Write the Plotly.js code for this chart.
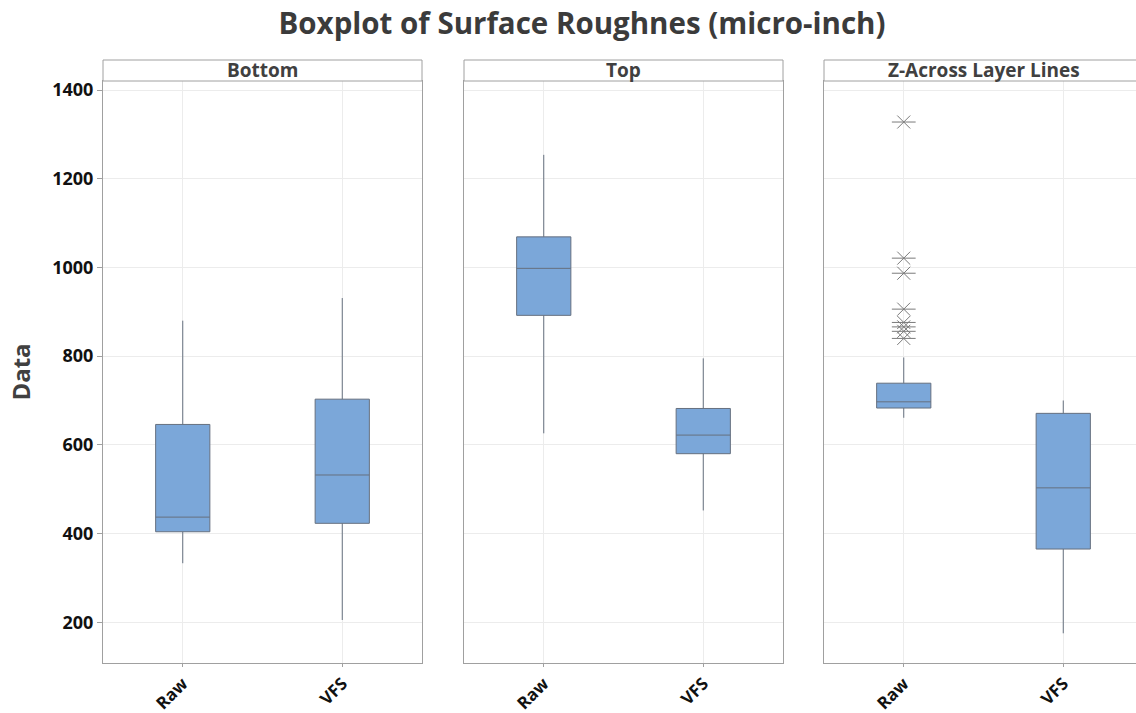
<!DOCTYPE html>
<html>
<head>
<meta charset="utf-8">
<script src="https://cdn.plot.ly/plotly-3.0.1.min.js"></script>
<style>
html,body{margin:0;padding:0;overflow:hidden;background:#fff;width:1136px;height:713px;}
#chart{width:1150px;height:713px;}
</style>
</head>
<body>
<div id="chart"></div>
<script>
// Data
const panels = ["Bottom", "Top", "Z-Across Layer Lines"];
const categories = ["Raw", "VFS"];
// per panel, per category: [lowerfence, q1, median, q3, upperfence]
const bottomStats = [[333, 404, 437, 646, 880], [205, 423, 532, 703, 931]];
const topStats = [[626, 892, 998, 1069, 1254], [452, 580, 622, 682, 795]];
const zStats = [[661, 683, 697, 739, 797], [175, 365, 503, 671, 700]];
const zRawOutliers = [1328, 1021, 987, 906, 876, 866, 856, 840];
const yTicks = [200, 400, 600, 800, 1000, 1200, 1400];

const allStats = [bottomStats, topStats, zStats];
const fill = "#7ba7d9";
const lineCol = "#66707f";
const font = "Open Sans, Noto Sans, sans-serif";

const traces = [];
allStats.forEach((ps, i) => {
  const xa = i === 0 ? "x" : "x" + (i + 1);
  const ya = i === 0 ? "y" : "y" + (i + 1);
  ps.forEach((s, j) => {
    traces.push({
      type: "box",
      x: [categories[j]],
      lowerfence: [s[0]], q1: [s[1]], median: [s[2]], q3: [s[3]], upperfence: [s[4]],
      xaxis: xa, yaxis: ya,
      fillcolor: fill,
      line: {color: lineCol, width: 1},
      whiskerwidth: 0,
      width: 0.34,
      boxpoints: false,
      showlegend: false,
      hoverinfo: "skip"
    });
  });
});
// outliers: X + horizontal line to mimic the asterisk symbol
["x-thin-open", "line-ew-open"].forEach(sym => {
  traces.push({
    type: "scatter", mode: "markers",
    x: zRawOutliers.map(() => categories[0]),
    y: zRawOutliers,
    xaxis: "x3", yaxis: "y3",
    marker: {symbol: sym, size: sym === "x-thin-open" ? 13 : 17, color: "#7a7a7a", line: {color: "#7a7a7a", width: 1}},
    showlegend: false, hoverinfo: "skip"
  });
});

const W = 1040;
const domains = [[0, 319 / W], [361 / W, 680 / W], [721 / W, 1]];
const yTop = 582 / 603;
const yRange = [108, 1420.5];

const layout = {
  width: 1150, height: 713,
  margin: {l: 103, r: 7, t: 60, b: 50},
  paper_bgcolor: "#fff", plot_bgcolor: "#fff",
  title: {text: "Boxplot of Surface Roughnes (micro-inch)", x: 582 / 1150, xref: "container", xanchor: "center",
          y: 1 - 24 / 713, yref: "container", yanchor: "middle",
          font: {family: font, size: 29.5, color: "#3b3b3b", weight: "bold"}},
  annotations: [],
  shapes: []
};

domains.forEach((d, i) => {
  const xk = i === 0 ? "xaxis" : "xaxis" + (i + 1);
  const yk = i === 0 ? "yaxis" : "yaxis" + (i + 1);
  const yid = i === 0 ? "y" : "y" + (i + 1);
  const xid = i === 0 ? "x" : "x" + (i + 1);
  layout[xk] = {
    domain: d, anchor: yid, type: "category",
    categoryorder: "array", categoryarray: categories,
    range: [-0.5, 1.5], fixedrange: true,
    showgrid: true, gridcolor: "#ececec", gridwidth: 1,
    showline: true, linecolor: "#a0a0a0", linewidth: 1, mirror: true,
    ticks: "outside", ticklen: 3, tickcolor: "#a0a0a0",
    tickangle: -45, automargin: false,
    tickfont: {family: font, size: 17, color: "#111", weight: "bold"},
    zeroline: false
  };
  layout[yk] = {
    domain: [0, yTop], anchor: xid, range: yRange, fixedrange: true,
    tickvals: yTicks, ticktext: yTicks.map(String),
    showgrid: true, gridcolor: "#ececec", gridwidth: 1,
    showline: true, linecolor: "#a0a0a0", linewidth: 1, mirror: true,
    ticks: i === 0 ? "outside" : "", ticklen: 5, tickcolor: "#a0a0a0",
    showticklabels: i === 0, automargin: false,
    tickfont: {family: font, size: 18, color: "#111", weight: "bold"},
    zeroline: false
  };
  if (i > 0) layout[yk].matches = "y";
  // strip header
  layout.shapes.push({
    type: "rect", xref: "paper", yref: "paper",
    x0: d[0], x1: d[1], y0: yTop, y1: 1,
    line: {color: "#a0a0a0", width: 1}, fillcolor: "#ffffff", layer: "above"
  });
  layout.annotations.push({
    text: panels[i], xref: "paper", yref: "paper",
    x: (d[0] + d[1]) / 2, y: (yTop + 1) / 2, xanchor: "center", yanchor: "middle",
    showarrow: false, font: {family: font, size: 19, color: "#404040", weight: "bold"}
  });
});
layout.yaxis.title = {text: "Data", font: {family: font, size: 24, color: "#404040", weight: "bold"}, standoff: 14};

Plotly.newPlot("chart", traces, layout, {displayModeBar: false, staticPlot: true});
</script>
</body>
</html>
